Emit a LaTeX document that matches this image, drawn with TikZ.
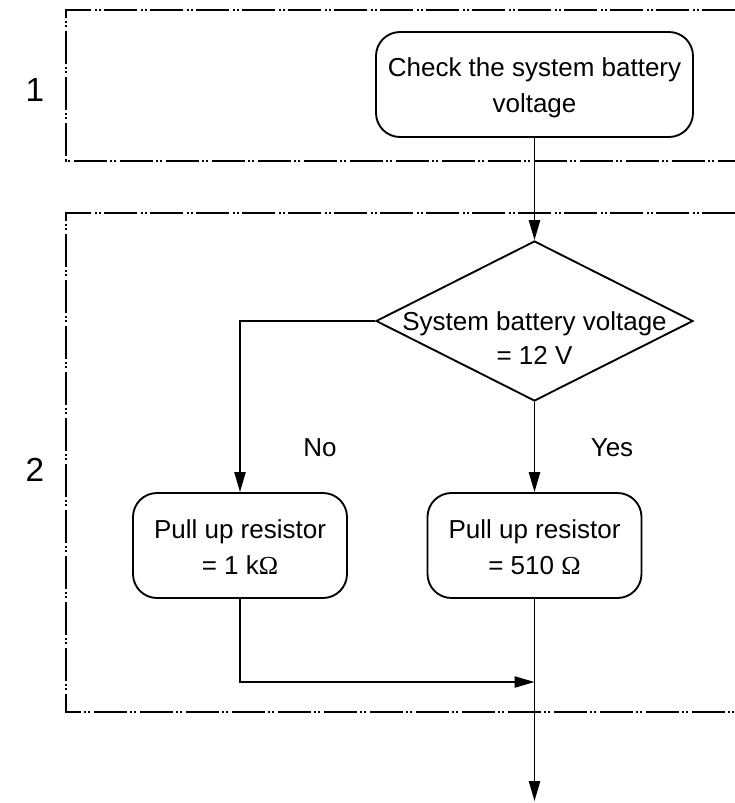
\documentclass[tikz,border=0pt]{standalone}
\usepackage{fontspec}
\setmainfont{Liberation Sans}
\newfontfamily\omfont{Liberation Serif}
\usetikzlibrary{shapes.geometric,arrows.meta}
\newcommand{\Om}{{\omfont\symbol{"03A9}}}
\tikzset{
  frameline/.style={line width=1pt, dash pattern=on 25pt off 2.3pt on 1.4pt off 1.5pt on 1.4pt off 2.9pt},
  rbox/.style={draw, line width=1.4pt, rounded corners=18pt, align=center, inner sep=0pt},
  dbox/.style={draw, diamond, line width=1.4pt, inner sep=0pt, aspect=2},
  conn/.style={line width=1pt, -{Triangle[length=15pt,width=8.5pt]}},
  txt/.style={font=\fontsize{19.5}{27}\selectfont, align=center, inner sep=0pt},
  numtxt/.style={font=\fontsize{25}{30}\selectfont, inner sep=0pt},
}
\begin{document}
\begin{tikzpicture}[x=0.75pt,y=-0.75pt]
\useasboundingbox (0,0) rectangle (735,803);
% frames
\draw[frameline] (735,10) -- (66,10) -- (66,161) -- (735,161);
\draw[frameline] (735,213) -- (66,213) -- (66,712) -- (735,712);
\node[numtxt] (n1) at (35,90) {1};
\node[numtxt] (n2) at (35,470) {2};
% nodes
\node[rbox, minimum width=237.75pt, minimum height=78.75pt] (top) at (534.5,84.5) {};
\node[txt] (toptxt) at (534.5,87.5) {Check the system battery\\voltage};
\node[dbox, minimum width=237.75pt, minimum height=120pt] (dia) at (534.5,321) {};
\node[txt, font=\fontsize{19.5}{25}\selectfont] (diatxt) at (534.5,338) {System battery voltage\\= 12 V};
\node[rbox, minimum width=160.5pt, minimum height=78.75pt] (lbox) at (240,545.5) {};
\node[txt] (ltxt) at (240,547) {Pull up resistor\\= 1 k\Om};
\node[rbox, minimum width=160.5pt, minimum height=78.75pt] (rbox) at (534.5,545.5) {};
\node[txt] (rtxt) at (534.5,547) {Pull up resistor\\= 510 \Om};
\node[txt] (no) at (320,448) {No};
\node[txt] (yes) at (612,448) {Yes};
\coordinate (merge) at (534.5,682);
\coordinate (end) at (534.5,801);
% connectors
\draw[conn] (top.south) -- (dia.north);
\draw[conn] (dia.west) -| (lbox.north);
\draw[conn] (dia.south) -- (rbox.north);
\draw[conn] (rbox.south) -- (end);
\draw[conn] (lbox.south) |- (merge);
\end{tikzpicture}
\end{document}
